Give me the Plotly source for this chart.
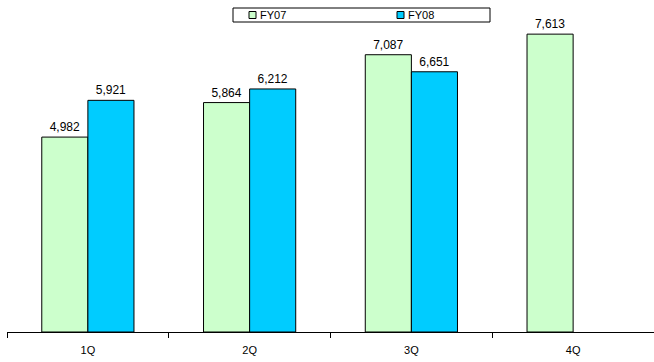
import plotly.graph_objects as go

quarters = ["1Q", "2Q", "3Q", "4Q"]
fy07 = [4982, 5864, 7087, 7613]
fy08 = [5921, 6212, 6651, None]
series_names = ["FY07", "FY08"]
series_colors = ["#CCFFCC", "#00CCFF"]

W, H = 654, 362
M = dict(l=7, r=0, t=19, b=30)
PW = W - M["l"] - M["r"]
PH = H - M["t"] - M["b"]


def px_x(px):
    return (px - M["l"]) / PW


def px_y(py):
    return (H - M["b"] - py) / PH


def fmt(vals):
    return [f"{v:,}" if v is not None else "" for v in vals]


fig = go.Figure()
for name, vals, col in zip(series_names, [fy07, fy08], series_colors):
    fig.add_trace(go.Bar(
        name=name, x=quarters, y=vals, text=fmt(vals), textposition="outside",
        marker=dict(color=col, line=dict(color="#000000", width=1)),
        textfont=dict(size=12, color="#000000"), cliponaxis=False,
        showlegend=False,
    ))

# boxed legend strip above the plot
shapes = [dict(type="rect", xref="paper", yref="paper",
               x0=px_x(233), x1=px_x(490), y0=px_y(22), y1=px_y(8),
               line=dict(color="#000000", width=1), fillcolor="white")]
annotations = []
for name, col, sx in zip(series_names, series_colors, [249, 397]):
    shapes.append(dict(type="rect", xref="paper", yref="paper",
                       x0=px_x(sx), x1=px_x(sx + 7), y0=px_y(18.5), y1=px_y(11.5),
                       line=dict(color="#000000", width=1), fillcolor=col))
    annotations.append(dict(xref="paper", yref="paper", x=px_x(sx + 8.5), y=px_y(15),
                            xanchor="left", yanchor="middle", text=name,
                            showarrow=False, font=dict(size=11, color="#000000")))

fig.update_layout(
    width=W, height=H,
    margin=M,
    paper_bgcolor="white", plot_bgcolor="white",
    font=dict(family="Liberation Sans, Arial, sans-serif", size=11, color="#000000"),
    barmode="group", bargap=0.43, bargroupgap=0,
    showlegend=False,
    shapes=shapes, annotations=annotations,
    xaxis=dict(
        showline=True, linecolor="#000000", linewidth=1,
        ticks="outside", tickson="boundaries", ticklen=5, tickcolor="#000000",
        ticklabelstandoff=8,
        showgrid=False, tickfont=dict(size=11),
    ),
    yaxis=dict(range=[0, 8000], visible=False, showgrid=False),
)

fig.write_html("out.html")
